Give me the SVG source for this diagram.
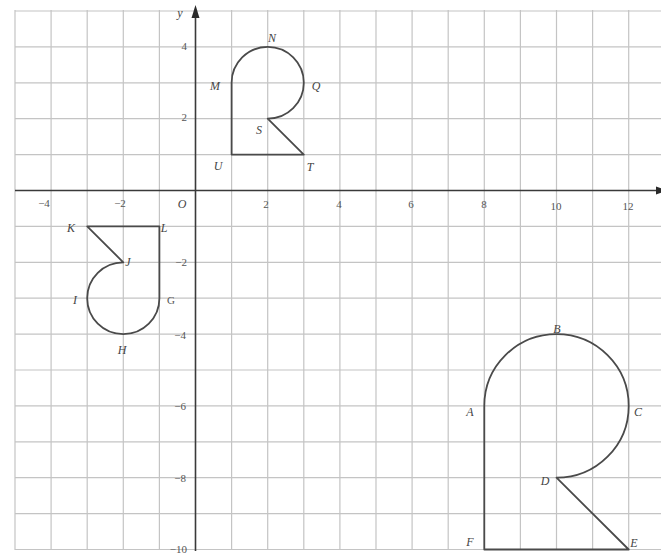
<svg xmlns="http://www.w3.org/2000/svg" width="661" height="554" viewBox="0 0 661 554">
<defs>
<style>
.grid line{stroke:#c4c4c4;stroke-width:1.2}
.axis{stroke:#3a3a3a;stroke-width:1.6;fill:none}
.shape{stroke:#4a4a4a;stroke-width:1.8;fill:none;stroke-linejoin:round}
.lbl{font-family:"Liberation Serif",serif;font-style:italic;font-size:12px;fill:#444;text-anchor:middle}
.num{font-family:"Liberation Serif",serif;font-size:11px;fill:#555;text-anchor:middle}
.numr{font-family:"Liberation Serif",serif;font-size:11px;fill:#555;text-anchor:end}
</style>
</defs>
<rect width="661" height="554" fill="#fff"/>
<g class="grid">
<line x1="15" y1="10" x2="15" y2="550"/>
<line x1="51.1" y1="10" x2="51.1" y2="550"/>
<line x1="87.2" y1="10" x2="87.2" y2="550"/>
<line x1="123.3" y1="10" x2="123.3" y2="550"/>
<line x1="159.4" y1="10" x2="159.4" y2="550"/>
<line x1="231.6" y1="10" x2="231.6" y2="550"/>
<line x1="267.7" y1="10" x2="267.7" y2="550"/>
<line x1="303.8" y1="10" x2="303.8" y2="550"/>
<line x1="339.9" y1="10" x2="339.9" y2="550"/>
<line x1="376" y1="10" x2="376" y2="550"/>
<line x1="412.1" y1="10" x2="412.1" y2="550"/>
<line x1="448.2" y1="10" x2="448.2" y2="550"/>
<line x1="484.3" y1="10" x2="484.3" y2="550"/>
<line x1="520.4" y1="10" x2="520.4" y2="550"/>
<line x1="556.5" y1="10" x2="556.5" y2="550"/>
<line x1="592.6" y1="10" x2="592.6" y2="550"/>
<line x1="628.7" y1="10" x2="628.7" y2="550"/>
<line x1="15" y1="11" x2="661" y2="11"/>
<line x1="15" y1="46.9" x2="661" y2="46.9"/>
<line x1="15" y1="82.8" x2="661" y2="82.8"/>
<line x1="15" y1="118.7" x2="661" y2="118.7"/>
<line x1="15" y1="154.6" x2="661" y2="154.6"/>
<line x1="15" y1="226.4" x2="661" y2="226.4"/>
<line x1="15" y1="262.3" x2="661" y2="262.3"/>
<line x1="15" y1="298.2" x2="661" y2="298.2"/>
<line x1="15" y1="334.1" x2="661" y2="334.1"/>
<line x1="15" y1="370" x2="661" y2="370"/>
<line x1="15" y1="405.9" x2="661" y2="405.9"/>
<line x1="15" y1="441.8" x2="661" y2="441.8"/>
<line x1="15" y1="477.7" x2="661" y2="477.7"/>
<line x1="15" y1="513.6" x2="661" y2="513.6"/>
<line x1="15" y1="549.5" x2="661" y2="549.5"/>
</g>
<g id="axes">
<line class="axis" x1="15" y1="190.5" x2="658" y2="190.5"/>
<line class="axis" x1="195.5" y1="551" x2="195.5" y2="14"/>
<polygon points="195.5,5 191.5,18 199.5,18" fill="#2a2a2a"/>
<polygon points="667,190.5 656,186.5 656,194.5" fill="#2a2a2a"/>
<text class="lbl" x="180" y="17" font-size="10">y</text>
</g>
<g id="axis-labels">
<text class="num" x="44" y="207">−4</text>
<text class="num" x="120" y="207">−2</text>
<text class="lbl" x="182" y="208">O</text>
<text class="num" x="266" y="208">2</text>
<text class="num" x="339" y="208">4</text>
<text class="num" x="411" y="208">6</text>
<text class="num" x="484" y="208">8</text>
<text class="num" x="556" y="210">10</text>
<text class="num" x="628" y="210">12</text>
<text class="numr" x="187" y="50">4</text>
<text class="numr" x="187" y="121">2</text>
<text class="numr" x="187" y="266">−2</text>
<text class="numr" x="186" y="339">−4</text>
<text class="numr" x="186" y="410">−6</text>
<text class="numr" x="186" y="482">−8</text>
<text class="numr" x="187" y="553">−10</text>
</g>
<g id="shape-MNQSTU">
<path class="shape" d="M231.6,82.8 A36.1,35.9 0 1 1 267.7,118.7 L303.8,154.6 L231.6,154.6 Z"/>
<text class="lbl" x="215" y="90">M</text>
<text class="lbl" x="272" y="42">N</text>
<text class="lbl" x="316" y="90">Q</text>
<text class="lbl" x="259" y="134">S</text>
<text class="lbl" x="218" y="170">U</text>
<text class="lbl" x="310" y="171">T</text>
</g>
<g id="shape-GHIJKL">
<path class="shape" d="M159.4,226.4 L87.2,226.4 L123.3,262.3 A36.1,35.9 0 1 0 159.4,298.2 Z"/>
<text class="lbl" x="71" y="232">K</text>
<text class="lbl" x="164" y="232">L</text>
<text class="lbl" x="128" y="266">J</text>
<text class="lbl" x="75" y="304">I</text>
<text class="num" x="171" y="304" font-size="12">G</text>
<text class="lbl" x="122" y="354">H</text>
</g>
<g id="shape-ABCDEF">
<path class="shape" d="M484.3,549.5 L484.3,405.9 A72.2,71.8 0 1 1 556.5,477.7 L628.7,549.5 Z"/>
<text class="lbl" x="557" y="333">B</text>
<text class="lbl" x="470" y="416">A</text>
<text class="lbl" x="638" y="416">C</text>
<text class="lbl" x="545" y="485">D</text>
<text class="lbl" x="470" y="546">F</text>
<text class="lbl" x="634" y="547">E</text>
</g>
</svg>
